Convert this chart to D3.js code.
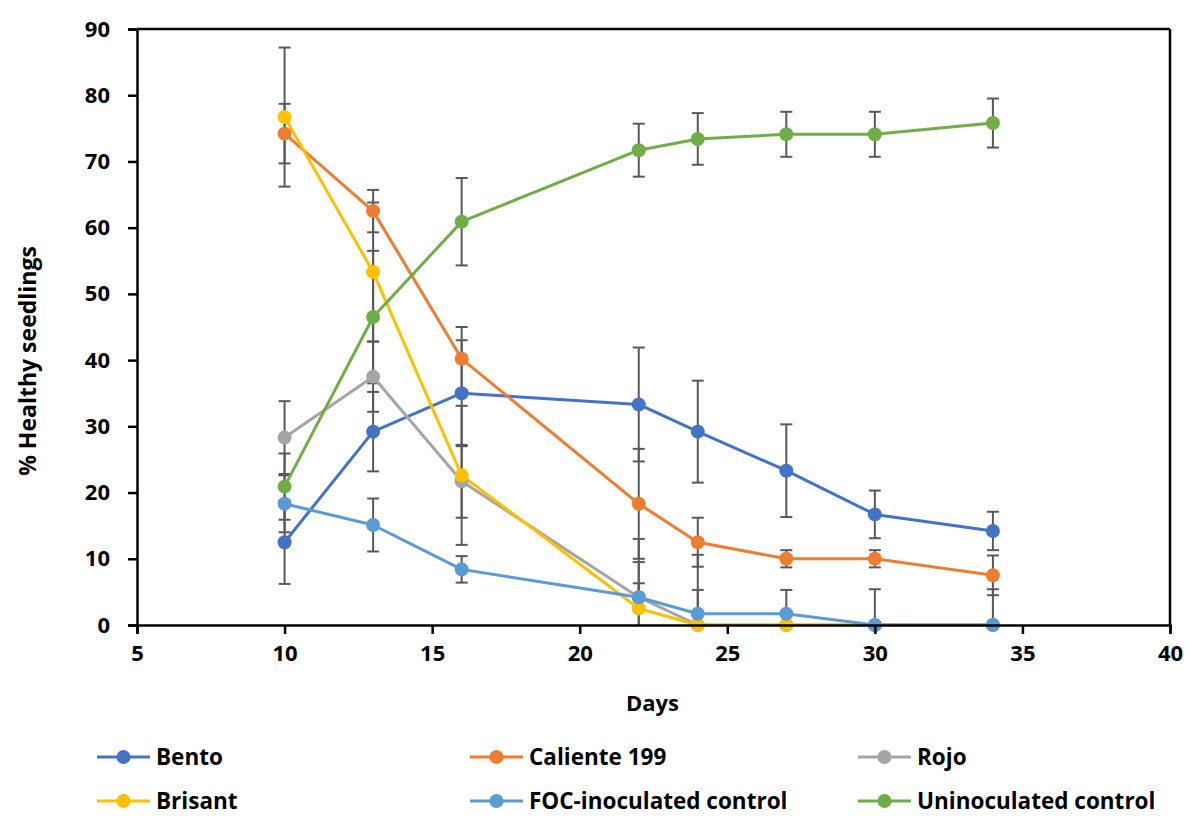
<!DOCTYPE html>
<html><head><meta charset="utf-8">
<script src="https://cdn.jsdelivr.net/npm/d3@7"></script>
<style>body{margin:0;background:#fff}text{font-family:"Open Sans",Lato,sans-serif;font-weight:bold}</style>
</head><body><svg id="c" width="1190" height="816"></svg>
<script>
const days = [10, 13, 16, 22, 24, 27, 30, 34];
const seriesNames = ["Bento", "Caliente 199", "Rojo", "Brisant", "FOC-inoculated control", "Uninoculated control"];
const bento = [12.5, 29.2, 35, 33.3, 29.2, 23.3, 16.7, 14.2];
const bentoErr = [6.3, 6, 8, 8.6, 7.7, 7, 3.6, 2.9];
const caliente = [74.2, 62.5, 40.2, 18.3, 12.5, 10, 10, 7.5];
const calienteErr = [4.5, 3.2, 4.8, 8.3, 3.7, 1.3, 1.3, 3];
const rojo = [28.3, 37.5, 21.7, 4.2, 0, 0, 0, 0];
const rojoErr = [5.5, 5.3, 5.5, 8.8, 10.6, 0, 0, 0];
const brisant = [76.7, 53.3, 22.6, 2.5, 0, 0, 0, 0];
const brisantErr = [10.5, 10.5, 10.5, 7, 0, 0, 0, 0];
const foc = [18.3, 15.1, 8.4, 4.2, 1.7, 1.7, 0, 0];
const focErr = [4.3, 4, 2, 2.1, 3.6, 3.6, 5.4, 5.4];
const unin = [20.9, 46.5, 60.9, 71.7, 73.4, 74.1, 74.1, 75.8];
const uninErr = [5, 10, 6.6, 4, 3.9, 3.4, 3.4, 3.7];
const xTicks = [5, 10, 15, 20, 25, 30, 35, 40];
const yTicks = [0, 10, 20, 30, 40, 50, 60, 70, 80, 90];
const colors = ["#4472C4", "#ED7D31", "#A5A5A5", "#FFC000", "#5B9BD5", "#70AD47"];

const values = [bento, caliente, rojo, brisant, foc, unin];
const errs = [bentoErr, calienteErr, rojoErr, brisantErr, focErr, uninErr];
const series = seriesNames.map((n, i) => ({name: n, color: colors[i],
  pts: days.map((d, j) => ({x: d, y: values[i][j], e: errs[i][j]}))}));

const svg = d3.select("#c");
const L = 137, R = 1170, T = 29, B = 625;
const x = d3.scaleLinear().domain([5, 40]).range([L, R]);
const y = d3.scaleLinear().domain([0, 90]).range([B, T]);

svg.append("defs").append("clipPath").attr("id", "clip")
  .append("rect").attr("x", L).attr("y", T).attr("width", R - L).attr("height", B - T);

const g = svg.append("g").attr("clip-path", "url(#clip)");

// error bars
series.forEach(s => {
  s.pts.forEach(p => {
    if (!p.e) return;
    const cx = x(p.x), y1 = y(p.y + p.e), y2 = y(p.y - p.e);
    g.append("line").attr("x1", cx).attr("x2", cx).attr("y1", y1).attr("y2", y2)
      .attr("stroke", "#595959").attr("stroke-width", 2);
    [y1, y2].forEach(yy => g.append("line").attr("x1", cx - 6).attr("x2", cx + 6)
      .attr("y1", yy).attr("y2", yy).attr("stroke", "#595959").attr("stroke-width", 2));
  });
});

const line = d3.line().x(d => x(d.x)).y(d => y(d.y));
series.forEach(s => {
  g.append("path").attr("d", line(s.pts)).attr("fill", "none")
    .attr("stroke", s.color).attr("stroke-width", 3).attr("stroke-linejoin", "round");
});
series.forEach(s => {
  svg.append("g").selectAll("circle").data(s.pts).join("circle")
    .attr("cx", d => x(d.x)).attr("cy", d => y(d.y)).attr("r", 7).attr("fill", s.color);
});

// frame
svg.append("line").attr("x1", L).attr("x2", R).attr("y1", T).attr("y2", T).attr("stroke", "#000").attr("stroke-width", 2.5);
svg.append("line").attr("x1", R).attr("x2", R).attr("y1", T).attr("y2", B).attr("stroke", "#000").attr("stroke-width", 2.5);

// axes
const yAxis = svg.append("g").attr("transform", `translate(${L},0)`)
  .call(d3.axisLeft(y).tickValues(yTicks).tickSize(9).tickPadding(18));
const xAxis = svg.append("g").attr("transform", `translate(0,${B})`)
  .call(d3.axisBottom(x).tickValues(xTicks).tickSize(9).tickPadding(11));
[xAxis, yAxis].forEach(a => {
  a.select(".domain").attr("stroke", "#000").attr("stroke-width", 2.5);
  a.selectAll(".tick line").attr("stroke", "#000").attr("stroke-width", 2.5);
  a.selectAll(".tick text").attr("font-size", 22).attr("fill", "#000")
    .style("font-family", "'Open Sans',Lato,sans-serif").style("font-weight", "bold");
});

svg.append("text").attr("x", (L + R) / 2 - 1).attr("y", 711).attr("text-anchor", "middle")
  .attr("font-size", 22).text("Days");
svg.append("text").attr("transform", "translate(36,361) rotate(-90)").attr("text-anchor", "middle")
  .attr("font-size", 23).text("% Healthy seedlings");

// legend
const legX = [97, 470, 858], legY = [757, 801];
series.forEach((s, i) => {
  const lx = legX[i % 3], ly = legY[Math.floor(i / 3)];
  svg.append("line").attr("x1", lx).attr("x2", lx + 53).attr("y1", ly).attr("y2", ly)
    .attr("stroke", s.color).attr("stroke-width", 3);
  svg.append("circle").attr("cx", lx + 26.5).attr("cy", ly).attr("r", 7).attr("fill", s.color);
  svg.append("text").attr("x", lx + 59).attr("y", ly + 7.5).attr("font-size", 22.5).text(s.name);
});
</script></body></html>
